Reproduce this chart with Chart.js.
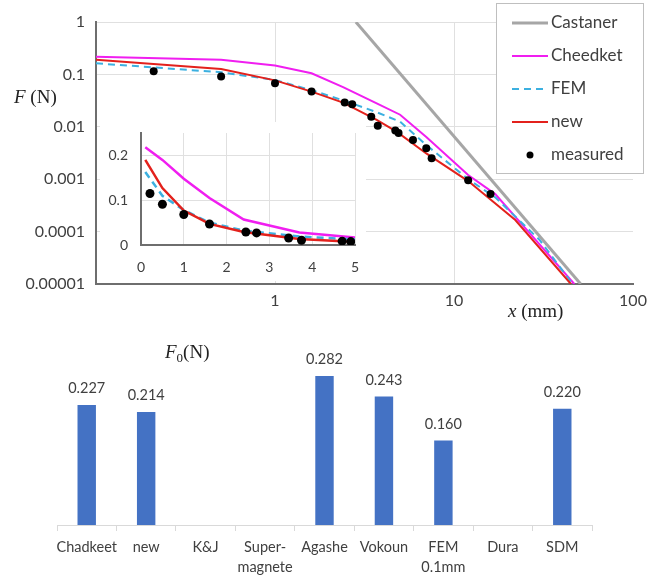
<!DOCTYPE html>
<html>
<head>
<meta charset="utf-8">
<title>Force vs distance</title>
<script src="https://cdn.jsdelivr.net/npm/chart.js@4.4.1/dist/chart.umd.min.js"></script>
<style>
  html, body { margin: 0; padding: 0; background: #fff; }
  #wrap { position: relative; width: 664px; height: 575px; overflow: hidden; }
  #mainBox { position: absolute; left: 0; top: 0; width: 664px; height: 325px; }
  #insetBox { position: absolute; left: 100px; top: 122px; width: 266px; height: 159px; background: #fff; }
  #barBox { position: absolute; left: 0; top: 320px; width: 664px; height: 255px; }
</style>
</head>
<body>
<div id="wrap">
  <div id="mainBox"><canvas id="mainChart"></canvas></div>
  <div id="insetBox"><canvas id="insetChart"></canvas></div>
  <div id="barBox"><canvas id="barChart"></canvas></div>
</div>
<script>
// ---- force curves, x in mm, F in N ----
const castanerX = [2.83, 51];
const castanerF = [1, 0.00001];

const cheedketX = [0.1, 0.5, 1, 1.6, 2.4, 3.7, 5, 7, 12, 17, 47];
const cheedketF = [0.218, 0.19, 0.148, 0.105, 0.057, 0.028, 0.017, 0.0064, 0.0012, 0.00052, 0.00001];

const femX = [0.1, 0.5, 1, 1.6, 2.4, 3.7, 5, 7, 12, 17, 30, 46];
const femF = [0.163, 0.11, 0.078, 0.05, 0.032, 0.019, 0.0125, 0.0045, 0.001, 0.00045, 0.00007, 0.00001];

const newX = [0.1, 0.5, 1, 1.6, 2.4, 3.7, 4.8, 7, 12, 22, 45];
const newF = [0.19, 0.127, 0.077, 0.047, 0.029, 0.0135, 0.008, 0.0031, 0.00092, 0.000166, 0.00001];

const measuredX = [0.21, 0.5, 1.0, 1.6, 2.45, 2.7, 3.45, 3.75, 4.7, 4.9, 5.9, 7.0, 7.5, 12, 16];
const measuredF = [0.115, 0.091, 0.068, 0.047, 0.029, 0.027, 0.0155, 0.0105, 0.0085, 0.0076, 0.0056, 0.0039, 0.0025, 0.00096, 0.00052];

// ---- axis ticks ----
const logTicksX = [0.1, 1, 10, 100];
const xTickLabels = ['', '1', '10', '100'];
const logTicksY = [1, 0.1, 0.01, 0.001, 0.0001, 0.00001];
const yTickLabels = ['1', '0.1', '0.01', '0.001', '0.0001', '0.00001'];
const insetTicksX = [0, 1, 2, 3, 4, 5];
const insetTicksY = [0, 0.1, 0.2];

// ---- F0 bar chart ----
const f0Categories = ['Chadkeet', 'new', 'K&J', ['Super-', 'magnete'], 'Agashe', 'Vokoun', ['FEM', '0.1mm'], 'Dura', 'SDM'];
const f0Values = [0.227, 0.214, null, null, 0.282, 0.243, 0.160, null, 0.220];

const COL = {
  castaner: '#a6a6a6',
  cheedket: '#f01ef0',
  fem: '#3cb0e0',
  newModel: '#e3211c',
  measured: '#000000',
  bar: '#4472c4',
  text: '#404040',
  grid: '#e0e0e0',
  axis: '#6e6e6e',
};
const SANS = 'Lato, "Open Sans", sans-serif';
const SERIF = '"Liberation Serif", "DejaVu Serif", serif';

const pts = (xs, ys) => xs.map((x, i) => ({ x, y: ys[i] }));

// keep tick-label overhang from pushing the plot area in
const noOverhangX = h => s => { s.height = h; s.paddingLeft = 0; s.paddingRight = 0; };
const noOverhangY = w => s => { s.width = w; s.paddingTop = 0; s.paddingBottom = 0; };

function curveDatasets(lineW, dotR) {
  return [
    { label: 'measured', data: pts(measuredX, measuredF), showLine: false,
      pointRadius: dotR, pointBackgroundColor: COL.measured, pointBorderWidth: 0, order: 0 },
    { label: 'new', data: pts(newX, newF), showLine: true, borderColor: COL.newModel,
      borderWidth: lineW, pointRadius: 0, order: 1 },
    { label: 'FEM', data: pts(femX, femF), showLine: true, borderColor: COL.fem,
      borderWidth: lineW, borderDash: [7, 5], pointRadius: 0, order: 2 },
    { label: 'Cheedket', data: pts(cheedketX, cheedketF), showLine: true, borderColor: COL.cheedket,
      borderWidth: lineW, pointRadius: 0, order: 3 },
    { label: 'Castaner', data: pts(castanerX, castanerF), showLine: true, borderColor: COL.castaner,
      borderWidth: 3, pointRadius: 0, order: 4 },
  ];
}

// legend panel in the top right corner of the log-log plot
const legendPanel = {
  id: 'legendPanel',
  afterDraw(chart) {
    const ctx = chart.ctx;
    const order = ['Castaner', 'Cheedket', 'FEM', 'new', 'measured'];
    ctx.save();
    ctx.fillStyle = '#fff';
    ctx.fillRect(496.5, 3.5, 147, 170);
    ctx.strokeStyle = '#bfbfbf';
    ctx.lineWidth = 1;
    ctx.strokeRect(496.5, 3.5, 147, 170);
    order.forEach((name, i) => {
      const ds = chart.data.datasets.find(d => d.label === name);
      const y = 23 + i * 33;
      if (ds.showLine) {
        ctx.beginPath();
        ctx.strokeStyle = ds.borderColor;
        ctx.lineWidth = ds.borderWidth;
        ctx.setLineDash(ds.borderDash || []);
        ctx.moveTo(512, y);
        ctx.lineTo(548, y);
        ctx.stroke();
        ctx.setLineDash([]);
      } else {
        ctx.beginPath();
        ctx.fillStyle = ds.pointBackgroundColor;
        ctx.arc(530, y, 3.5, 0, Math.PI * 2);
        ctx.fill();
      }
      ctx.fillStyle = COL.text;
      ctx.font = '17px ' + SANS;
      ctx.textAlign = 'left';
      ctx.textBaseline = 'middle';
      ctx.fillText(name, 551, y);
    });
    ctx.restore();
  }
};

function drawItalicTitle(ctx, x, y, italicPart, rest, size) {
  ctx.save();
  ctx.fillStyle = '#222';
  ctx.textBaseline = 'middle';
  ctx.textAlign = 'left';
  ctx.font = 'italic ' + size + 'px ' + SERIF;
  ctx.fillText(italicPart, x, y);
  const w = ctx.measureText(italicPart).width;
  ctx.font = size + 'px ' + SERIF;
  ctx.fillText(rest, x + w, y);
  ctx.restore();
}

const axisTitles = {
  id: 'axisTitles',
  afterDraw(chart) {
    drawItalicTitle(chart.ctx, 14, 98, 'F', ' (N)', 19);
    drawItalicTitle(chart.ctx, 508, 312, 'x', ' (mm)', 19);
  }
};

new Chart(document.getElementById('mainChart'), {
  type: 'scatter',
  data: { datasets: curveDatasets(2, 4) },
  options: {
    responsive: true,
    maintainAspectRatio: false,
    animation: false,
    layout: { padding: { left: 0, top: 22, right: 31, bottom: 0 } },
    plugins: { legend: { display: false }, tooltip: { enabled: false } },
    scales: {
      x: {
        type: 'logarithmic', min: 0.1, max: 100,
        afterBuildTicks: s => { s.ticks = logTicksX.map(v => ({ value: v })); },
        afterFit: noOverhangX(41),
        grid: { color: c => (c.tick && c.tick.value === 100 ? 'rgba(0,0,0,0)' : COL.grid), drawTicks: false },
        border: { color: COL.axis, width: 2 },
        ticks: {
          autoSkip: false, maxRotation: 0, padding: 7, color: COL.text,
          font: { family: SANS, size: 16 },
          callback: v => xTickLabels[logTicksX.indexOf(v)]
        }
      },
      y: {
        type: 'logarithmic', min: 0.00001, max: 1,
        afterBuildTicks: s => { s.ticks = logTicksY.map(v => ({ value: v })); },
        afterFit: noOverhangY(96),
        grid: { color: COL.grid, drawTicks: false },
        border: { color: COL.axis, width: 2 },
        ticks: {
          autoSkip: false, padding: 11, color: COL.text,
          font: { family: SANS, size: 16 },
          callback: v => yTickLabels[logTicksY.indexOf(v)]
        }
      }
    }
  },
  plugins: [legendPanel, axisTitles]
});

// linear close-up of the first 5 mm
new Chart(document.getElementById('insetChart'), {
  type: 'scatter',
  data: { datasets: curveDatasets(2.5, 4.5).filter(d => d.label !== 'Castaner') },
  options: {
    responsive: true,
    maintainAspectRatio: false,
    animation: false,
    layout: { padding: { left: 0, top: 11, right: 11, bottom: 0 } },
    plugins: { legend: { display: false }, tooltip: { enabled: false } },
    scales: {
      x: {
        type: 'linear', min: 0, max: 5,
        afterBuildTicks: s => { s.ticks = insetTicksX.map(v => ({ value: v })); },
        afterFit: noOverhangX(36),
        grid: { color: COL.grid, drawTicks: false },
        border: { color: COL.axis, width: 2 },
        ticks: { autoSkip: false, maxRotation: 0, padding: 14, color: COL.text,
          font: { family: SANS, size: 14 }, callback: v => String(v) }
      },
      y: {
        type: 'linear', min: 0, max: 0.25,
        afterBuildTicks: s => { s.ticks = insetTicksY.map(v => ({ value: v })); },
        afterFit: noOverhangY(41),
        grid: { color: COL.grid, drawTicks: false },
        border: { color: COL.axis, width: 2 },
        ticks: { autoSkip: false, padding: 13, color: COL.text,
          font: { family: SANS, size: 14 }, callback: v => String(v) }
      }
    }
  }
});

// value labels above bars + F0 title
const barLabels = {
  id: 'barLabels',
  afterDatasetsDraw(chart) {
    const ctx = chart.ctx;
    const meta = chart.getDatasetMeta(0);
    ctx.save();
    ctx.fillStyle = COL.text;
    ctx.font = '14.5px ' + SANS;
    ctx.textAlign = 'center';
    ctx.textBaseline = 'bottom';
    meta.data.forEach((bar, i) => {
      const v = f0Values[i];
      if (v == null) return;
      ctx.fillText(v.toFixed(3), bar.x, bar.y - 9);
    });
    // F0 (N)
    ctx.fillStyle = '#222';
    ctx.textBaseline = 'middle';
    ctx.textAlign = 'left';
    ctx.font = 'italic 19px ' + SERIF;
    ctx.fillText('F', 165, 33);
    let x = 165 + ctx.measureText('F').width;
    ctx.font = '13px ' + SERIF;
    ctx.fillText('0', x, 39);
    x += ctx.measureText('0').width;
    ctx.font = '19px ' + SERIF;
    ctx.fillText('(N)', x, 33);
    ctx.restore();
  }
};

new Chart(document.getElementById('barChart'), {
  type: 'bar',
  data: {
    labels: f0Categories,
    datasets: [{ label: 'F0', data: f0Values, backgroundColor: COL.bar,
      barPercentage: 0.31, categoryPercentage: 1 }]
  },
  options: {
    responsive: true,
    maintainAspectRatio: false,
    animation: false,
    layout: { padding: { left: 57, top: 20, right: 72, bottom: 0 } },
    plugins: { legend: { display: false }, tooltip: { enabled: false } },
    scales: {
      x: {
        afterFit: noOverhangX(50),
        grid: { offset: true, drawOnChartArea: false, tickLength: 6, color: '#d9d9d9' },
        border: { color: '#d9d9d9', width: 1 },
        ticks: { autoSkip: false, maxRotation: 0, padding: 7, color: COL.text,
          font: { family: SANS, size: 14.5, lineHeight: 1.35 } }
      },
      y: { display: false, min: 0, max: 0.35 }
    }
  },
  plugins: [barLabels]
});
</script>
</body>
</html>
